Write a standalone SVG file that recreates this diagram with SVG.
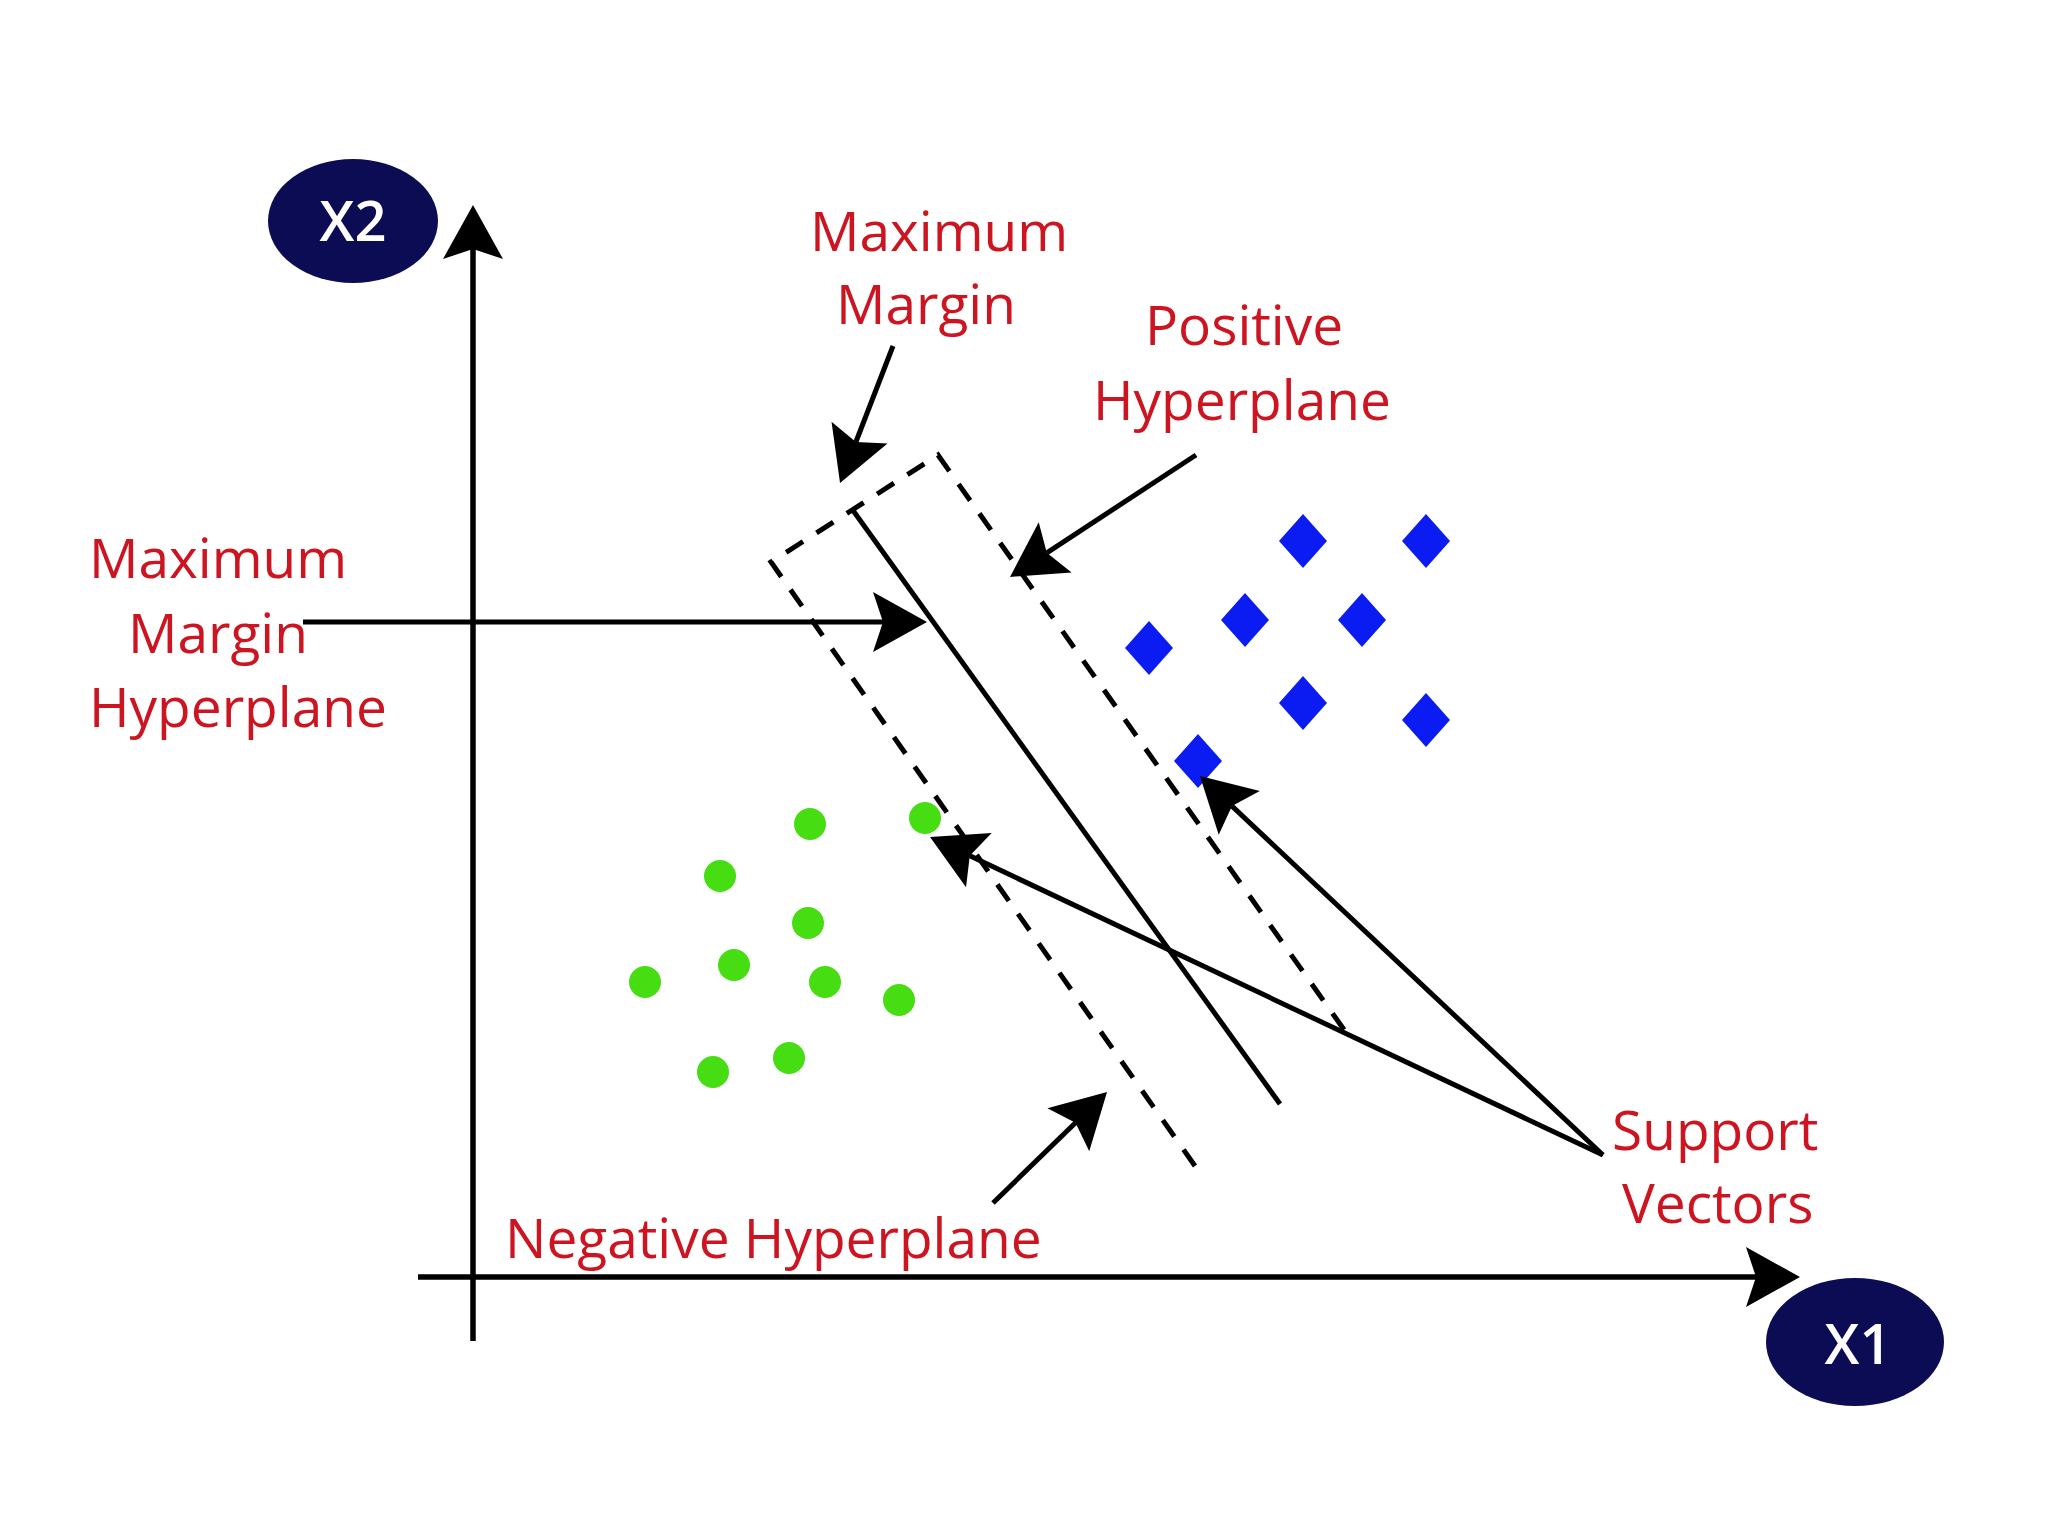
<svg xmlns="http://www.w3.org/2000/svg" width="2048" height="1536" viewBox="0 0 2048 1536">
<style>
.lbl{font-family:"Open Sans","Liberation Sans",sans-serif;font-size:55px;fill:#cc1520}
.ax{font-family:"Open Sans","Liberation Sans",sans-serif;font-size:56px;font-weight:600;fill:#ffffff;text-anchor:middle}
.node{fill:#0c0c55}
.line{stroke:#000;stroke-width:5;fill:none}
.axis{stroke:#000;stroke-width:5.5;fill:none}
.dash{stroke:#000;stroke-width:5;fill:none;stroke-dasharray:20 16}
.dia{fill:#0b1cf2}
.dot{fill:#46dd12}
</style>
<defs>
<marker id="arr" markerUnits="userSpaceOnUse" viewBox="-12 -32 60 64" markerWidth="60" markerHeight="64" refX="0" refY="0" orient="auto">
<path d="M44,0 L-10,-30 L0,0 L-10,30 Z" fill="#000"/>
</marker>
</defs>
<rect width="2048" height="1536" fill="#ffffff"/>
<g id="x2">
<ellipse class="node" cx="353" cy="221" rx="85" ry="62"/>
<text class="ax" x="353" y="241">X2</text>
</g>
<g id="x1">
<ellipse class="node" cx="1855" cy="1342" rx="89" ry="64"/>
<text class="ax" x="1858" y="1364">X1</text>
</g>
<g id="hyperplanes">
<path class="dash" d="M1195,1166 L771,562 L938,455 L1352,1041"/>
<line class="line" x1="852" y1="509" x2="1280" y2="1104"/>
</g>
<g id="positive-points">
<polygon class="dia" points="1303,514 1327,541 1303,568 1279,541"/>
<polygon class="dia" points="1426,514 1450,541 1426,568 1402,541"/>
<polygon class="dia" points="1245,593 1269,620 1245,647 1221,620"/>
<polygon class="dia" points="1362,593 1386,620 1362,647 1338,620"/>
<polygon class="dia" points="1149,621 1173,648 1149,675 1125,648"/>
<polygon class="dia" points="1303,676 1327,703 1303,730 1279,703"/>
<polygon class="dia" points="1426,693 1450,720 1426,747 1402,720"/>
<polygon class="dia" points="1198,734 1222,761 1198,788 1174,761"/>
</g>
<g id="negative-points">
<circle class="dot" cx="810" cy="824" r="16"/>
<circle class="dot" cx="925" cy="818" r="16"/>
<circle class="dot" cx="720" cy="876" r="16"/>
<circle class="dot" cx="808" cy="923" r="16"/>
<circle class="dot" cx="734" cy="965" r="16"/>
<circle class="dot" cx="645" cy="982" r="16"/>
<circle class="dot" cx="825" cy="982" r="16"/>
<circle class="dot" cx="899" cy="1000" r="16"/>
<circle class="dot" cx="713" cy="1072" r="16"/>
<circle class="dot" cx="789" cy="1058" r="16"/>
</g>
<g id="connectors">
<line class="axis" x1="473" y1="1341" x2="473" y2="249" marker-end="url(#arr)"/>
<line class="axis" x1="418" y1="1277" x2="1756" y2="1277" marker-end="url(#arr)"/>
<line class="line" x1="303" y1="622" x2="883" y2="622" marker-end="url(#arr)"/>
<line class="line" x1="893" y1="346" x2="855.9" y2="442" marker-end="url(#arr)"/>
<line class="line" x1="1196" y1="455" x2="1046.8" y2="552.8" marker-end="url(#arr)"/>
<line class="line" x1="993" y1="1203" x2="1075.5" y2="1122.7" marker-end="url(#arr)"/>
<line class="line" x1="1603" y1="1155" x2="969.8" y2="855.8" marker-end="url(#arr)"/>
<line class="line" x1="1603" y1="1155" x2="1232" y2="806.1" marker-end="url(#arr)"/>
</g>
<g id="labels">
<text class="lbl" x="810" y="251">Maximum</text>
<text class="lbl" x="836" y="324">Margin</text>
<text class="lbl" x="1145" y="345">Positive</text>
<text class="lbl" x="1093" y="420">Hyperplane</text>
<text class="lbl" x="89" y="578">Maximum</text>
<text class="lbl" x="128" y="653">Margin</text>
<text class="lbl" x="89" y="727">Hyperplane</text>
<text class="lbl" x="505" y="1258">Negative Hyperplane</text>
<text class="lbl" x="1612" y="1150">Support</text>
<text class="lbl" x="1622" y="1223">Vectors</text>
</g>
</svg>
